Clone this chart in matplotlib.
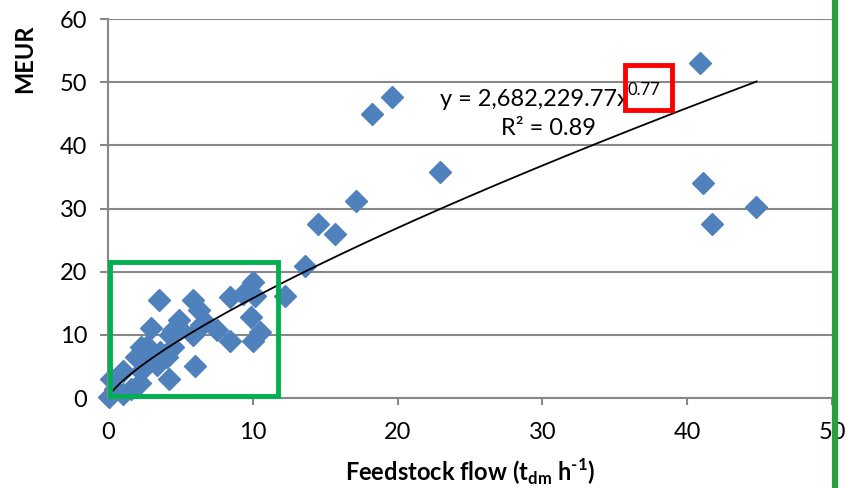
import numpy as np
import matplotlib.pyplot as plt
from matplotlib.patches import Rectangle
from matplotlib.lines import Line2D

plt.rcParams['font.family'] = ['Lato', 'DejaVu Sans']
plt.rcParams['mathtext.fontset'] = 'custom'
plt.rcParams['mathtext.rm'] = 'Lato'
plt.rcParams['mathtext.bf'] = 'Lato:bold'

# plant feedstock flow (t_dm/h) and investment (MEUR)
flow = [0.05, 0.2, 0.5, 1.0, 1.0, 1.6, 1.9, 2.2, 2.3, 2.3, 2.4, 2.7, 3.0, 3.0,
        3.4, 3.5, 3.6, 4.05, 4.2, 4.3, 4.5, 4.5, 4.9, 5.0, 5.9, 5.9, 6.0, 6.3,
        6.4, 6.7, 7.5, 8.4, 8.4, 9.3, 10.0, 10.15, 9.9, 10.5, 10.0, 12.2, 13.6,
        14.5, 15.7, 17.1, 18.2, 19.6, 22.9, 40.9, 41.1, 41.7, 44.75]
cost = [0.2, 3.0, 1.5, 0.7, 4.2, 1.5, 6.5, 2.4, 4.2, 8.0, 7.3, 8.3, 11.1, 6.0,
        5.3, 15.5, 7.3, 6.5, 3.0, 10.0, 10.8, 8.0, 12.3, 11.0, 15.5, 10.0, 5.1,
        14.0, 11.5, 12.0, 10.8, 9.0, 16.0, 16.5, 18.3, 16.2, 12.9, 10.5, 9.0,
        16.2, 20.9, 27.5, 25.9, 31.2, 45.0, 47.7, 35.8, 53.1, 34.1, 27.5, 30.2]

# power-law fit y = a * x^b (a in MEUR)
fit_a = 2.68222977
fit_b = 0.77
fit_x_range = [0.1, 44.8]
r_squared = 0.89

x_ticks = [0, 10, 20, 30, 40, 50]
y_ticks = [0, 10, 20, 30, 40, 50, 60]

fig = plt.figure(figsize=(8.54, 4.88), dpi=100)
ax = fig.add_axes([0.1265, 0.1844, 0.8477, 0.7766])

grid_col = '#888888'
ax.set_xlim(x_ticks[0], x_ticks[-1])
ax.set_ylim(y_ticks[0], y_ticks[-1])
ax.set_xticks(x_ticks)
ax.set_yticks(y_ticks)
ax.yaxis.grid(True, color=grid_col, linewidth=1.5)
ax.set_axisbelow(True)
for side in ['top', 'right']:
    ax.spines[side].set_visible(False)
for side in ['left', 'bottom']:
    ax.spines[side].set_color(grid_col)
    ax.spines[side].set_linewidth(1.5)
ax.tick_params(axis='both', colors=grid_col, width=1.5, labelsize=17,
               labelcolor='black')
ax.tick_params(axis='y', length=6, pad=9)
ax.tick_params(axis='x', length=5, pad=12)

xs = np.linspace(fit_x_range[0], fit_x_range[1], 300)
ax.plot(xs, fit_a * xs ** fit_b, color='black', linewidth=1.3, zorder=3)
ax.plot(flow, cost, linestyle='none', marker='D', markersize=11,
        color='#4F81BD', clip_on=False, zorder=2)

ax.text(22.9, 47.3, 'y = 2,682,229.77x', fontsize=17, ha='left', va='center')
ax.text(35.9, 48.8, '0.77', fontsize=12, ha='left', va='center')
ax.text(30.4, 42.6, 'R² = {:.2f}'.format(r_squared), fontsize=17,
        ha='center', va='center')

ax.add_patch(Rectangle((0.14, 0.3), 11.6, 21.2, fill=False, edgecolor='#00B050',
                       linewidth=3.5, clip_on=False, zorder=4))
ax.add_patch(Rectangle((35.7, 45.6), 3.25, 7.2, fill=False, edgecolor='#FF0000',
                       linewidth=3.5, clip_on=False, zorder=4))

ax.set_xlabel('Feedstock flow (t$_{\\mathbf{dm}}$ h$^{\\mathbf{\u2010 1}}$)',
              fontsize=17, fontweight='bold', labelpad=10)
ax.set_ylabel('MEUR', fontsize=17, fontweight='bold')
ax.yaxis.set_label_coords(-0.10, 0.895)

fig.add_artist(Line2D([0.978, 0.978], [0, 1], color='#2CA040', linewidth=4.5,
                      transform=fig.transFigure))

fig.savefig('out.png', dpi=100)
